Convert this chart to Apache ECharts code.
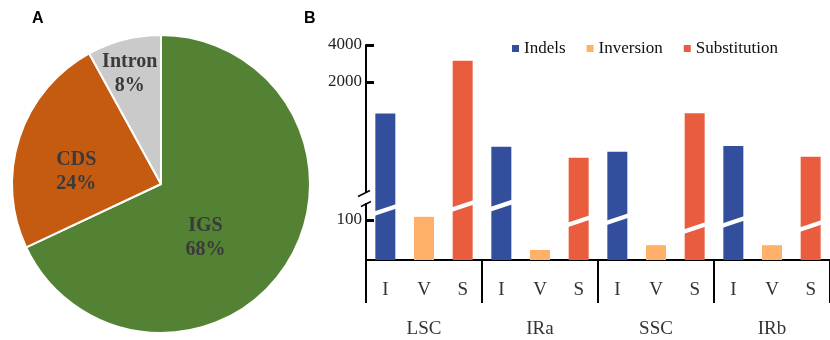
<!DOCTYPE html>
<html>
<head>
<meta charset="utf-8">
<script src="https://cdn.jsdelivr.net/npm/echarts@6/dist/echarts.min.js"></script>
<style>
html,body{margin:0;padding:0;background:#fff;}
#main{width:830px;height:340px;}
</style>
</head>
<body>
<div id="main"></div>
<script>
// ---- Panel A: pie ----
const pieNames = ['IGS', 'CDS', 'Intron'];
const pieValues = [68, 24, 8];

// ---- Panel B: bars ----
const regions = ['LSC', 'IRa', 'SSC', 'IRb'];
const types = ['I', 'V', 'S'];
const indels = [1110, 595, 542, 603];
const inversion = [108, 25, 37, 37];
const substitution = [2980, 484, 1112, 494];
// break-mark levels (lower-axis units) drawn on the tall bars
const breakIndels = [125, 136, 102, 95];
const breakSubstitution = [135, 97, 80, 85];
// tick labels
const upperTicks = [2000, 4000];
const lowerTicks = [100];

const serif = "'Liberation Serif', 'Times New Roman', serif";
const colors = { Indels: '#344E9E', Inversion: '#FFB169', Substitution: '#EA5C3E' };

const categories = [];
regions.forEach(() => types.forEach(t => categories.push(t)));
function spread(arr, slot) {
  return categories.map((c, i) => (i % 3 === slot ? arr[Math.floor(i / 3)] : null));
}
const seriesDefs = [
  { name: 'Indels', data: spread(indels, 0) },
  { name: 'Inversion', data: spread(inversion, 1) },
  { name: 'Substitution', data: spread(substitution, 2) }
];
const breakData = [];
regions.forEach((r, g) => {
  breakData.push([g * 3, breakIndels[g]]);
  breakData.push([g * 3 + 2, breakSubstitution[g]]);
});

const pieLabelOffsets = { IGS: [-21, 12], CDS: [-11, 12], Intron: [-12, -35] };
const pieColors = { IGS: '#548235', CDS: '#C55A11', Intron: '#CACACA' };

const GL = 366, GW = 464;
const chart = echarts.init(document.getElementById('main'), null, { renderer: 'canvas' });

const barSeries = [];
[0, 1].forEach(g => {
  seriesDefs.forEach(s => {
    barSeries.push({
      type: 'bar', name: s.name, xAxisIndex: g, yAxisIndex: g,
      data: s.data, barWidth: 20, barGap: '-100%', clip: true,
      itemStyle: { color: colors[s.name] }, silent: true
    });
  });
});

const plain = v => String(Math.round(v));

const option = {
  animation: false,
  backgroundColor: '#fff',
  legend: {
    data: ['Indels', 'Inversion', 'Substitution'],
    left: 507, top: 35, icon: 'rect', itemWidth: 7, itemHeight: 7, itemGap: 21,
    textStyle: { fontFamily: serif, fontSize: 17, color: '#111' }
  },
  grid: [
    { left: GL, top: 45, width: GW, height: 155 },
    { left: GL, top: 200, width: GW, height: 60 }
  ],
  xAxis: [
    { gridIndex: 0, type: 'category', data: categories, show: false },
    {
      gridIndex: 1, type: 'category', data: categories,
      axisLine: { lineStyle: { color: '#000', width: 2 } },
      axisTick: { show: true, interval: (i) => i % 3 === 0, length: 43, lineStyle: { color: '#000', width: 2 } },
      axisLabel: { margin: 21, fontFamily: serif, fontSize: 19, color: '#333', interval: 0 }
    },
    {
      gridIndex: 1, type: 'category', data: regions, position: 'bottom',
      axisLine: { show: false }, axisTick: { show: false },
      axisLabel: { margin: 60, fontFamily: serif, fontSize: 19, color: '#333', interval: 0 }
    }
  ],
  yAxis: [
    {
      gridIndex: 0, type: 'log', min: 219.3, max: 4000,
      axisLine: { show: true, lineStyle: { color: '#000', width: 2 } },
      axisTick: { show: true, inside: true, length: 8, customValues: upperTicks, lineStyle: { color: '#000', width: 3 } },
      axisLabel: { customValues: upperTicks, formatter: plain, margin: 4, fontFamily: serif, fontSize: 17, color: '#222' },
      splitLine: { show: false }
    },
    {
      gridIndex: 1, type: 'value', min: 0, max: 150,
      axisLine: { show: true, lineStyle: { color: '#000', width: 2 } },
      axisTick: { show: true, inside: true, length: 8, customValues: lowerTicks, lineStyle: { color: '#000', width: 3 } },
      axisLabel: { customValues: lowerTicks, formatter: plain, margin: 4, fontFamily: serif, fontSize: 17, color: '#222' },
      splitLine: { show: false }
    }
  ],
  series: barSeries.concat([
    {
      type: 'custom', name: 'breaks', xAxisIndex: 1, yAxisIndex: 1, z: 10, silent: true,
      data: breakData,
      renderItem: function (params, api) {
        const p = api.coord([api.value(0), api.value(1)]);
        const hw = 12, dy = 4, th = 2.3;
        return {
          type: 'polygon',
          shape: { points: [
            [p[0] - hw, p[1] + dy - th], [p[0] + hw, p[1] - dy - th],
            [p[0] + hw, p[1] - dy + th], [p[0] - hw, p[1] + dy + th]
          ] },
          style: { fill: '#fff' }
        };
      }
    },
    {
      type: 'pie', center: [161, 184], radius: 149, startAngle: 90, clockwise: true,
      silent: true,
      itemStyle: { borderColor: '#fff', borderWidth: 2 },
      label: {
        show: true, position: 'inside', formatter: '{b}\n{c}%',
        fontFamily: serif, fontWeight: 'bold', fontSize: 20, lineHeight: 24, color: '#3A3A3A'
      },
      labelLine: { show: false },
      data: pieNames.map((n, i) => ({
        name: n, value: pieValues[i],
        itemStyle: { color: pieColors[n] },
        label: { offset: pieLabelOffsets[n] }
      }))
    }
  ]),
  graphic: [
    { type: 'text', left: 32, top: 11, style: { text: 'A', font: "bold 16px 'Liberation Sans', Arial, sans-serif", fill: '#000' } },
    { type: 'text', left: 304, top: 11, style: { text: 'B', font: "bold 16px 'Liberation Sans', Arial, sans-serif", fill: '#000' } },
    { type: 'rect', z: 100, shape: { x: GL - 3, y: 192, width: 6, height: 11 }, style: { fill: '#fff' } },
    { type: 'line', z: 101, shape: { x1: GL - 8, y1: 196.5, x2: GL + 4, y2: 190.5 }, style: { stroke: '#000', lineWidth: 1.5 } },
    { type: 'line', z: 101, shape: { x1: GL - 5, y1: 206.5, x2: GL + 5, y2: 201.5 }, style: { stroke: '#000', lineWidth: 1.5 } }
  ]
};
chart.setOption(option);
</script>
</body>
</html>
